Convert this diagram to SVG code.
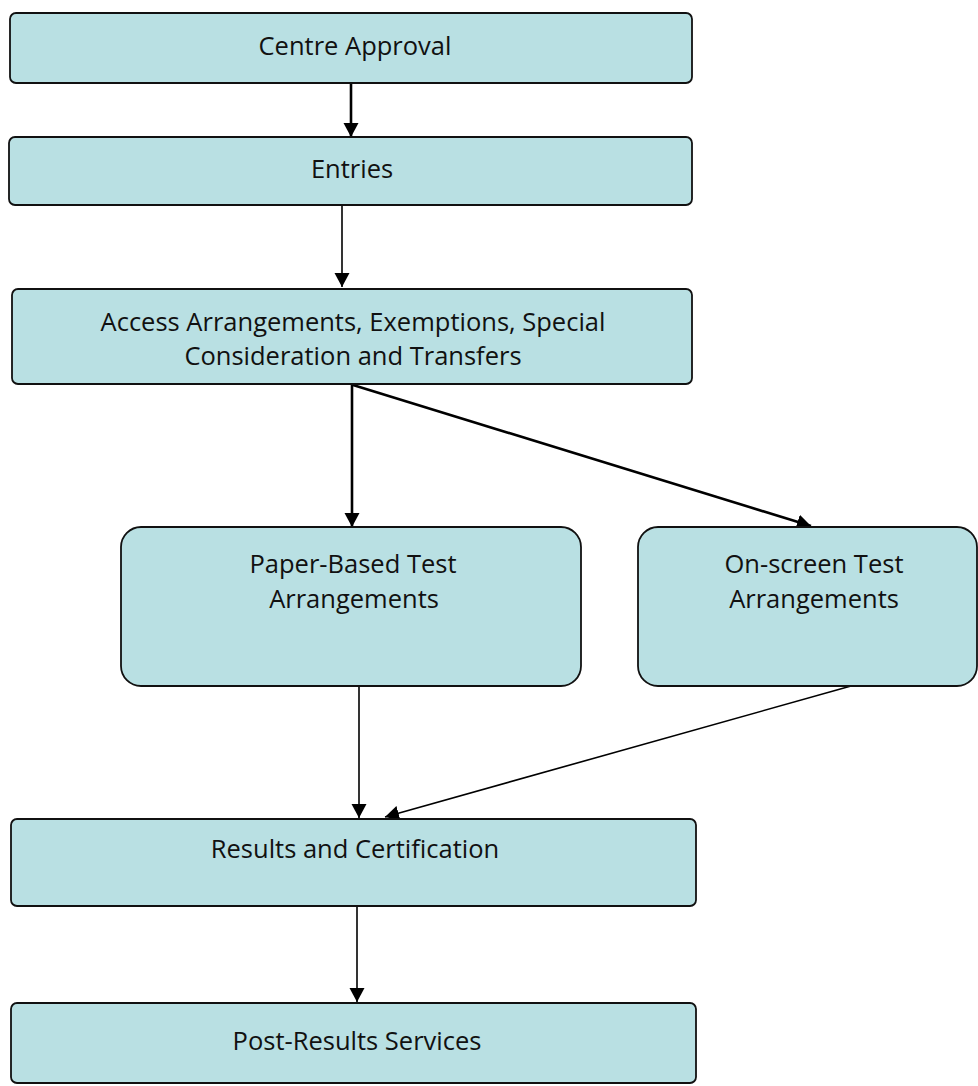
<svg xmlns="http://www.w3.org/2000/svg" width="978" height="1086" viewBox="0 0 978 1086">
<style>
.box{fill:#B9E0E3;stroke:#111;stroke-width:1.8}
.t{font-family:"Open Sans","Liberation Sans",sans-serif;font-size:25.5px;fill:#111;text-anchor:middle}
.c{fill:none;stroke:#000}
.thick{stroke-width:2.6}
.thin{stroke-width:1.6}
</style>
<defs>
<marker id="ah" markerUnits="userSpaceOnUse" markerWidth="15" markerHeight="16" refX="14" refY="8" orient="auto">
<path d="M0,0.5 L14,8 L0,15.5 z" fill="#000"/>
</marker>
</defs>
<rect width="978" height="1086" fill="#fff"/>
<g id="connectors">
<line class="c thick" x1="351" y1="84" x2="351" y2="137" marker-end="url(#ah)"/>
<line class="c thin" x1="342" y1="206" x2="342" y2="287" marker-end="url(#ah)"/>
<line class="c thick" x1="352" y1="385" x2="352" y2="527" marker-end="url(#ah)"/>
<line class="c thick" x1="353" y1="385" x2="811" y2="526" marker-end="url(#ah)"/>
<line class="c thin" x1="359" y1="686" x2="359" y2="818" marker-end="url(#ah)"/>
<line class="c thin" x1="851" y1="686" x2="385" y2="817" marker-end="url(#ah)"/>
<line class="c thin" x1="357" y1="906" x2="357" y2="1002" marker-end="url(#ah)"/>
</g>
<g id="centre-approval">
<rect class="box" x="10" y="13" width="682" height="70" rx="6"/>
<text class="t" x="355" y="55">Centre Approval</text>
</g>
<g id="entries">
<rect class="box" x="9" y="137" width="683" height="68" rx="6"/>
<text class="t" x="352" y="178">Entries</text>
</g>
<g id="access">
<rect class="box" x="12" y="289" width="680" height="95" rx="6"/>
<text class="t" x="353" y="331">Access Arrangements, Exemptions, Special</text>
<text class="t" x="353" y="365">Consideration and Transfers</text>
</g>
<g id="paper-based">
<rect class="box" x="121" y="527" width="460" height="159" rx="20"/>
<text class="t" x="353" y="573">Paper-Based Test</text>
<text class="t" x="354" y="608">Arrangements</text>
</g>
<g id="on-screen">
<rect class="box" x="638" y="527" width="339" height="159" rx="20"/>
<text class="t" x="814" y="573">On-screen Test</text>
<text class="t" x="814" y="608">Arrangements</text>
</g>
<g id="results">
<rect class="box" x="11" y="819" width="685" height="87" rx="6"/>
<text class="t" x="355" y="858">Results and Certification</text>
</g>
<g id="post-results">
<rect class="box" x="11" y="1003" width="685" height="80" rx="6"/>
<text class="t" x="357" y="1050">Post-Results Services</text>
</g>
</svg>
